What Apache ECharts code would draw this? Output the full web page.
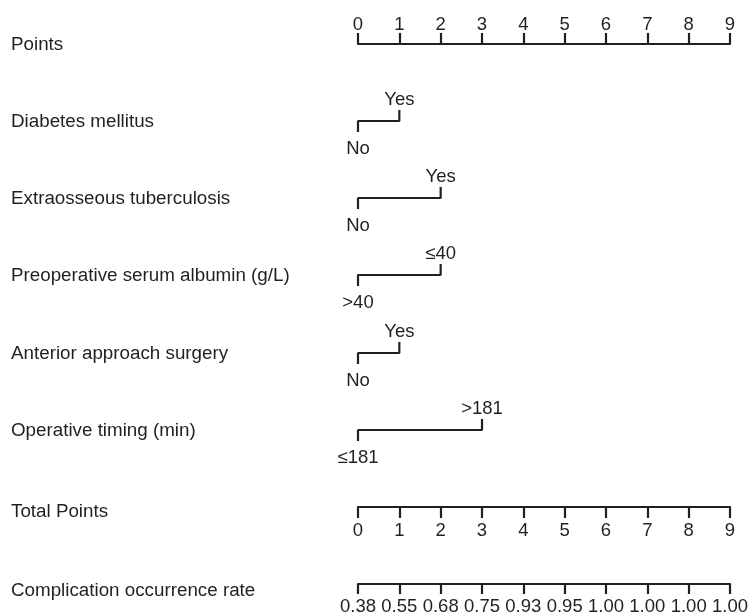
<!DOCTYPE html>
<html><head><meta charset="utf-8">
<script src="https://cdn.jsdelivr.net/npm/echarts@6/dist/echarts.min.js"></script>
<style>html,body{margin:0;padding:0;background:#fff}#c{width:755px;height:616px}</style>
</head><body><div id="c"></div>
<script>
// ---- data ----
const pointTicks = [0, 1, 2, 3, 4, 5, 6, 7, 8, 9];
const variableNames = ["Diabetes mellitus", "Extraosseous tuberculosis", "Preoperative serum albumin (g/L)", "Anterior approach surgery", "Operative timing (min)"];
const variablePoints = [1, 2, 2, 1, 3];
const lowLabels = ["No", "No", ">40", "No", "≤181"];
const highLabels = ["Yes", "Yes", "≤40", "Yes", ">181"];
const totalPointTicks = [0, 1, 2, 3, 4, 5, 6, 7, 8, 9];
const riskLabels = ["0.38", "0.55", "0.68", "0.75", "0.93", "0.95", "1.00", "1.00", "1.00", "1.00"];

// ---- layout / style ----
const X0 = 358, XW = 372;
const pointsY = 44, varY = [121, 198, 275, 353, 430], totalY = 507, riskY = 587;
const INK = '#231f20';
const FAM = '"Liberation Sans", Arial, Helvetica, sans-serif';
const FS = 18.5;
const NAME_FS = 18.8;
const LW = 2.2;

const chart = echarts.init(document.getElementById('c'));
const grids = [], xAxes = [], yAxes = [], series = [], graphics = [];

function axisGrid(lineY, pos, labels, tickLen, margin) {
  const gi = grids.length;
  grids.push({ left: X0, width: XW, top: pos === 'top' ? lineY : lineY - 10, height: 10 });
  xAxes.push({
    gridIndex: gi, type: 'value', position: pos, min: 0, max: labels.length - 1, interval: 1,
    axisLine: { show: true, onZero: false, lineStyle: { color: INK, width: LW } },
    axisTick: { show: true, length: tickLen, lineStyle: { color: INK, width: LW } },
    axisLabel: { show: true, margin: margin, color: INK, fontFamily: FAM, fontSize: FS,
      formatter: v => labels[Math.round(v)] },
    splitLine: { show: false }
  });
  yAxes.push({ gridIndex: gi, type: 'value', show: false, min: 0, max: 1 });
}

axisGrid(pointsY, 'top', pointTicks.map(String), 11, 10);

const lblStyle = { show: true, color: INK, fontFamily: FAM, fontSize: FS, opacity: 1 };
variableNames.forEach((name, i) => {
  const gi = grids.length;
  grids.push({ left: X0, width: XW, top: varY[i] - 11, height: 22 });
  xAxes.push({ gridIndex: gi, type: 'value', show: false, min: 0, max: 9 });
  yAxes.push({ gridIndex: gi, type: 'value', show: false, min: -1, max: 1 });
  const p = variablePoints[i];
  series.push({
    type: 'line', xAxisIndex: gi, yAxisIndex: gi, symbol: 'none', clip: false, silent: true,
    data: [[0, -1], [0, 0], [p, 0], [p, 1]],
    lineStyle: { color: INK, width: LW }
  });
  series.push({
    type: 'scatter', xAxisIndex: gi, yAxisIndex: gi, symbolSize: 0, silent: true, clip: false,
    itemStyle: { color: INK, opacity: 1 },
    emphasis: { disabled: true },
    data: [
      { value: [0, -1], label: Object.assign({}, lblStyle, { position: 'bottom', distance: 7, formatter: lowLabels[i] }) },
      { value: [p, 1], label: Object.assign({}, lblStyle, { position: 'top', distance: 1, formatter: highLabels[i] }) }
    ]
  });
});

axisGrid(totalY, 'bottom', totalPointTicks.map(String), 11, 14);
axisGrid(riskY, 'bottom', riskLabels, 10, 13);

const rowNames = ["Points", ...variableNames, "Total Points", "Complication occurrence rate"];
const rowYs = [pointsY, ...varY, totalY + 4, riskY + 3];
rowNames.forEach((t, i) => {
  graphics.push({ type: 'text', x: 11, y: rowYs[i] + 1,
    style: { text: t, fill: INK, font: NAME_FS + 'px ' + FAM, align: 'left', verticalAlign: 'middle' } });
});

chart.setOption({
  animation: false,
  backgroundColor: '#fff',
  grid: grids, xAxis: xAxes, yAxis: yAxes, series: series, graphic: graphics
});
</script>
</body></html>
